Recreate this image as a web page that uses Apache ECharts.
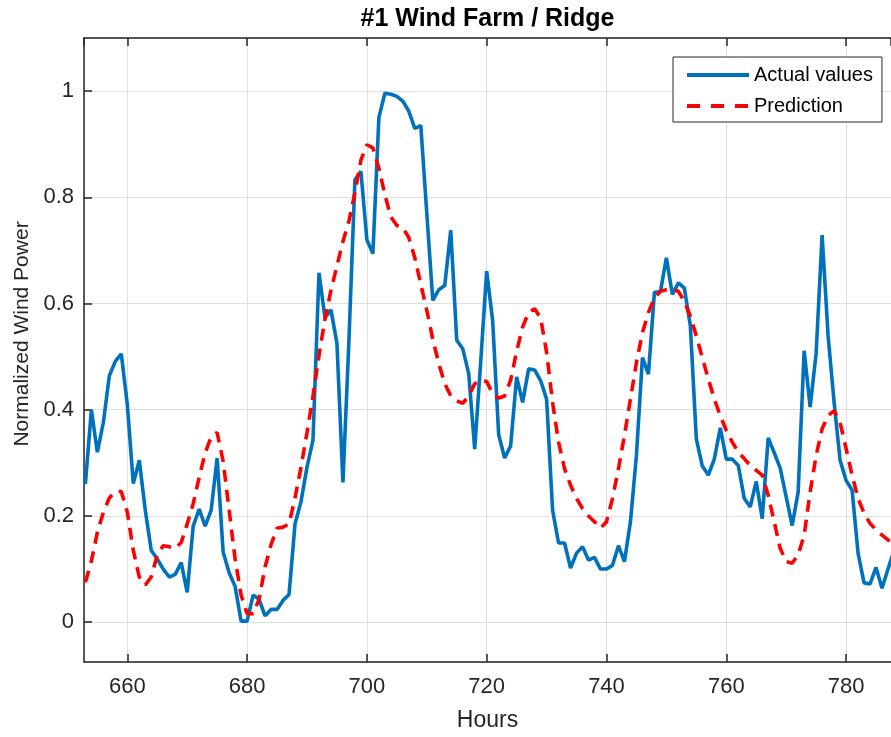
<!DOCTYPE html>
<html>
<head>
<meta charset="utf-8">
<title>#1 Wind Farm / Ridge</title>
<script src="https://cdn.jsdelivr.net/npm/echarts@6/dist/echarts.min.js"></script>
<style>
  html, body { margin: 0; padding: 0; background: #fff; }
  #chart { width: 891px; height: 737px; }
</style>
</head>
<body>
<div id="chart"></div>
<script>
// hourly samples, first hour = 653
const firstHour = 653
// actual normalized wind power
const actual = [
  0.26, 0.40, 0.32, 0.376, 0.464, 0.491, 0.505, 0.41, 0.261, 0.305,
  0.211, 0.135, 0.119, 0.100, 0.085, 0.090, 0.112, 0.056, 0.181, 0.213,
  0.181, 0.211, 0.309, 0.132, 0.093, 0.067, 0.002, 0.002, 0.051, 0.043,
  0.012, 0.024, 0.024, 0.041, 0.052, 0.185, 0.227, 0.292, 0.343, 0.658,
  0.573, 0.588, 0.525, 0.263, 0.53, 0.833, 0.849, 0.72, 0.694, 0.95,
  0.996, 0.994, 0.99, 0.981, 0.962, 0.93, 0.935, 0.77, 0.606, 0.626,
  0.634, 0.738, 0.531, 0.515, 0.468, 0.326, 0.49, 0.661, 0.567, 0.353,
  0.309, 0.332, 0.462, 0.414, 0.477, 0.475, 0.455, 0.42, 0.211, 0.149,
  0.149, 0.102, 0.13, 0.142, 0.117, 0.122, 0.10, 0.10, 0.107, 0.144,
  0.114, 0.189, 0.314, 0.498, 0.467, 0.621, 0.622, 0.686, 0.617, 0.639,
  0.629, 0.558, 0.345, 0.294, 0.277, 0.307, 0.366, 0.307, 0.307, 0.295,
  0.233, 0.217, 0.265, 0.195, 0.347, 0.319, 0.29, 0.236, 0.182, 0.245,
  0.511, 0.405, 0.506, 0.729, 0.539, 0.414, 0.305, 0.267, 0.249, 0.13,
  0.074, 0.072, 0.103, 0.064, 0.10, 0.135
]
// model prediction
const prediction = [
  0.075, 0.115, 0.169, 0.207, 0.234, 0.246, 0.246, 0.207, 0.135, 0.085,
  0.07, 0.085, 0.127, 0.144, 0.142, 0.139, 0.15, 0.185, 0.223, 0.273,
  0.319, 0.349, 0.357, 0.303, 0.211, 0.119, 0.051, 0.016, 0.016, 0.043,
  0.104, 0.146, 0.177, 0.179, 0.185, 0.234, 0.292, 0.357, 0.426, 0.502,
  0.571, 0.625, 0.671, 0.717, 0.755, 0.809, 0.87, 0.899, 0.893, 0.855,
  0.805, 0.763, 0.747, 0.743, 0.724, 0.686, 0.636, 0.587, 0.533, 0.487,
  0.449, 0.426, 0.417, 0.412, 0.426, 0.449, 0.456, 0.453, 0.43, 0.422,
  0.426, 0.456, 0.51, 0.556, 0.583, 0.59, 0.573, 0.508, 0.414, 0.339,
  0.289, 0.258, 0.233, 0.214, 0.2, 0.189, 0.177, 0.189, 0.233, 0.289,
  0.352, 0.42, 0.489, 0.545, 0.583, 0.611, 0.623, 0.626, 0.626, 0.623,
  0.604, 0.576, 0.539, 0.498, 0.458, 0.42, 0.389, 0.361, 0.339, 0.32,
  0.308, 0.295, 0.286, 0.277, 0.239, 0.189, 0.139, 0.114, 0.111, 0.127,
  0.164, 0.245, 0.314, 0.364, 0.389, 0.398, 0.376, 0.327, 0.277, 0.233,
  0.205, 0.186, 0.174, 0.164, 0.155, 0.145
]
const hours = actual.map((v, i) => firstHour + i)
const seriesNames = ['Actual values', 'Prediction']

const font = "'Liberation Sans', Arial, Helvetica, sans-serif"
const axisColor = '#262626'
const gridColor = '#dfdfdf'

const pairs = arr => arr.map((v, i) => [hours[i], v])

const chart = echarts.init(document.getElementById('chart'), null, { renderer: 'canvas' })
const option = {
  animation: false,
  backgroundColor: '#fff',
  textStyle: { fontFamily: font },
  title: {
    text: '#1 Wind Farm / Ridge',
    left: 487.5,
    top: 7,
    padding: 0,
    textAlign: 'center',
    textStyle: { fontFamily: font, fontSize: 25, fontWeight: 'bold', color: '#000' }
  },
  legend: {
    orient: 'vertical',
    left: 673,
    top: 57,
    padding: [8, 9, 6, 12],
    itemGap: 11,
    itemWidth: 62,
    itemHeight: 3,
    itemStyle: { opacity: 0 },
    borderColor: axisColor,
    borderWidth: 1,
    borderRadius: 0,
    backgroundColor: '#fff',
    textStyle: { fontFamily: font, fontSize: 20, color: '#000' },
    data: [
      { name: seriesNames[0], lineStyle: { width: 4 } },
      { name: seriesNames[1], lineStyle: { width: 4, type: [13, 11] } }
    ]
  },
  grid: { left: 84, top: 38, right: 0, bottom: 73 },
  xAxis: [
    {
      type: 'value',
      min: 652.77,
      max: 787.5,
      splitNumber: 7,
      name: 'Hours',
      nameLocation: 'middle',
      nameGap: 47,
      nameTextStyle: { fontFamily: font, fontSize: 23, color: axisColor },
      axisLine: { show: true, onZero: false, lineStyle: { color: axisColor, width: 1.5 } },
      axisTick: { show: true, inside: true, length: 8, lineStyle: { color: axisColor, width: 1.5 } },
      axisLabel: {
        show: true, margin: 14, fontFamily: font, fontSize: 22, color: axisColor,
        showMinLabel: false, showMaxLabel: false
      },
      splitLine: { show: true, lineStyle: { color: gridColor, width: 1 } }
    },
    {
      type: 'value',
      position: 'top',
      min: 652.77,
      max: 787.5,
      splitNumber: 7,
      axisLine: { show: true, onZero: false, lineStyle: { color: axisColor, width: 1.5 } },
      axisTick: { show: true, inside: true, length: 8, lineStyle: { color: axisColor, width: 1.5 } },
      axisLabel: { show: false },
      splitLine: { show: false }
    }
  ],
  yAxis: {
    type: 'value',
    min: -0.075,
    max: 1.1,
    splitNumber: 6,
    name: 'Normalized Wind Power',
    nameLocation: 'middle',
    nameGap: 50,
    nameTextStyle: { fontFamily: font, fontSize: 21, color: axisColor, padding: [0, 0, 0, 32] },
    axisLine: { show: true, onZero: false, lineStyle: { color: axisColor, width: 1.5 } },
    axisTick: { show: true, inside: true, length: 8, lineStyle: { color: axisColor, width: 1.5 } },
    axisLabel: {
      margin: 10, fontFamily: font, fontSize: 22, color: axisColor,
      showMinLabel: false, showMaxLabel: false
    },
    splitLine: { show: true, lineStyle: { color: gridColor, width: 1 } }
  },
  series: [
    {
      name: seriesNames[0],
      type: 'line',
      xAxisIndex: 0,
      data: pairs(actual),
      symbol: 'none',
      lineStyle: { color: '#0072BD', width: 3.6 },
      itemStyle: { color: '#0072BD' }
    },
    {
      name: seriesNames[1],
      type: 'line',
      xAxisIndex: 0,
      data: pairs(prediction),
      symbol: 'none',
      lineStyle: { color: '#FF0000', width: 3.6, type: [12, 8] },
      itemStyle: { color: '#FF0000' }
    }
  ]
}
chart.setOption(option)
</script>
</body>
</html>
